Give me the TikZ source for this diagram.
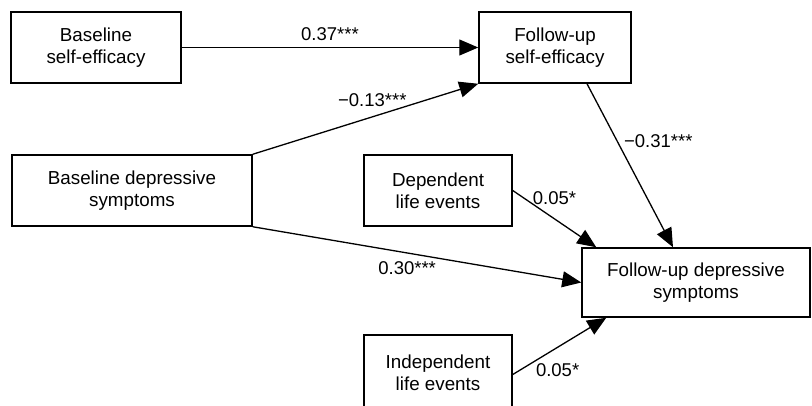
\documentclass[tikz,border=0pt]{standalone}
\usepackage{fontspec}
\setmainfont{Liberation Sans}
\usetikzlibrary{arrows.meta}
\begin{document}
\begin{tikzpicture}[x=1pt,y=-1pt]
\tikzstyle{box}=[draw,line width=1.5pt,align=center,minimum height=71pt,inner sep=0pt,font=\fontsize{18.8}{22}\selectfont]
\tikzstyle{eff}=[line width=1.3pt,-{Triangle[length=19pt,width=16pt]}]
\tikzstyle{lbl}=[font=\fontsize{18.5}{22}\selectfont]
\useasboundingbox (0,0) rectangle (812,405);
\node[box,minimum width=170pt](bse) at (96,47.5) {Baseline\\self-efficacy};
\node[box,minimum width=152pt](fse) at (555,47.5) {Follow-up\\self-efficacy};
\node[box,minimum width=240pt](bds) at (132,190.5) {Baseline depressive\\symptoms};
\node[box,minimum width=148pt](dle) at (438,190.5) {Dependent\\life events};
\node[box,minimum width=228pt,minimum height=69pt](fds) at (696,282.5) {Follow-up depressive\\symptoms};
\node[box,minimum width=148pt,minimum height=75pt](ile) at (438,372.5) {Independent\\life events};
\draw[eff] (bse.east) -- (fse.west) node[lbl,midway,above=3pt]{0.37***};
\draw[eff] (bds.north east) -- (fse.south west) node[lbl,pos=0.53,above=6pt]{−0.13***};
\draw[eff] (bds.south east) -- (fds.west) node[lbl,pos=0.47,below=5pt]{0.30***};
\draw[eff] ([xshift=32pt]fse.south) -- ([xshift=-23pt]fds.north) node[lbl,pos=0.35,right=3pt]{−0.31***};
\draw[eff] (dle.east) -- ([xshift=15pt]fds.north west) node[lbl,pos=0.5,above=10pt]{0.05*};
\draw[eff] ([yshift=-2pt]ile.east) -- ([xshift=25pt]fds.south west) node[lbl,pos=0.48,below=12pt]{0.05*};
\end{tikzpicture}
\end{document}
